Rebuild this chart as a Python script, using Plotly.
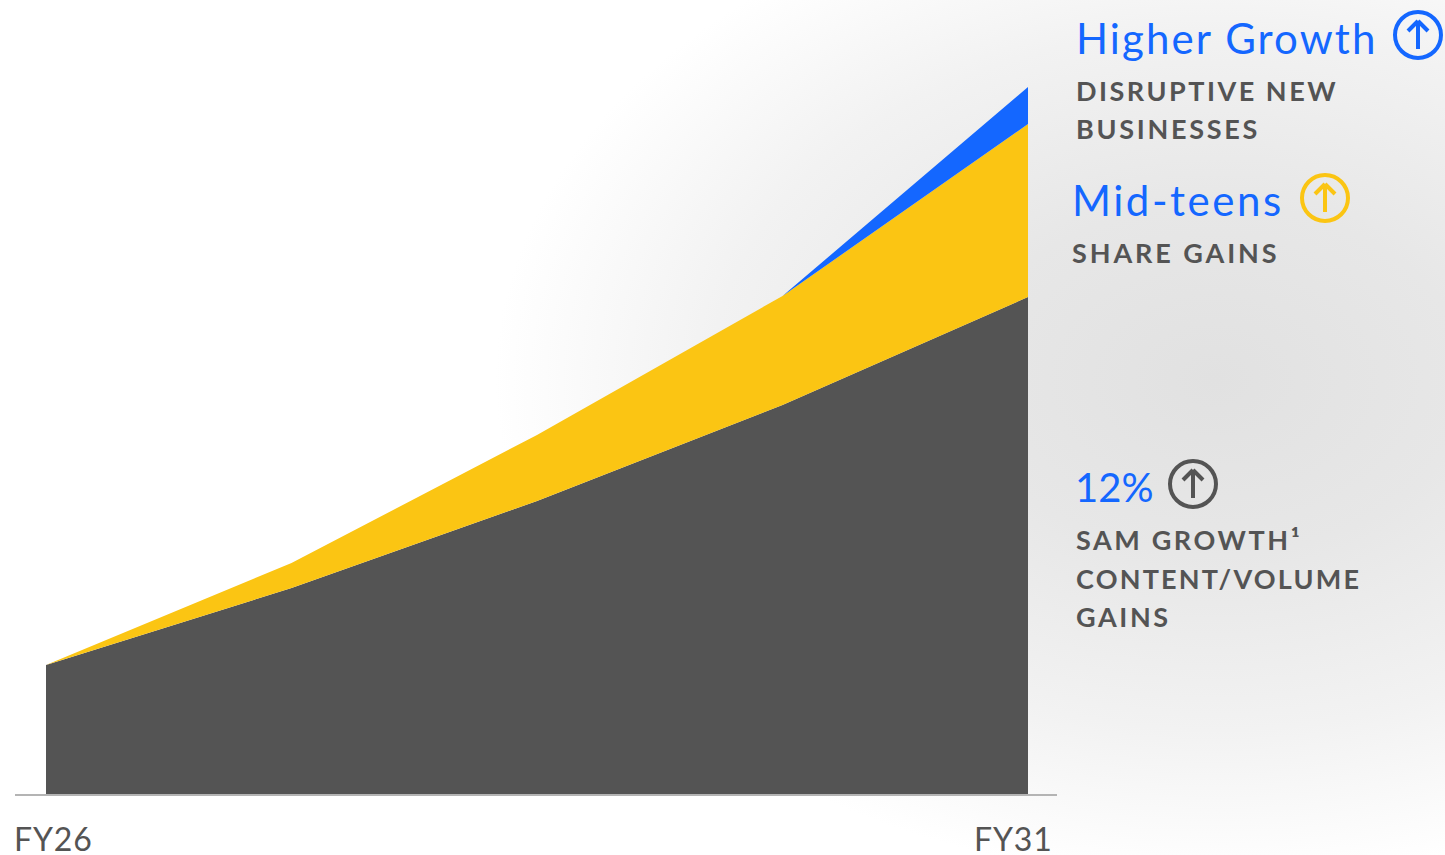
import base64
import plotly.graph_objects as go

W, H = 1445, 855
# Data (heights above the baseline, in chart units)
periods = [0, 1, 2, 3, 4]
sam_growth = [129, 206, 293, 389, 497]
share_gains = [0, 25, 66, 109, 173]
new_business = [0, 0, 0, 0, 37]
tick_labels = ["FY26", "FY31"]

BLUE, YELLOW, GRAY = "#1467FF", "#FBC513", "#545454"
FONT = "Lato"
L, R, T, B = 15, 1057, 0, 794
X0, DX = 46, 245.5


def px(x):
    return (x - L) / (R - L)


def py(y):
    return (B - y) / (B - T)


svg = f'''<svg xmlns="http://www.w3.org/2000/svg" width="{W}" height="{H}">
<defs><radialGradient id="g" gradientUnits="userSpaceOnUse" cx="0" cy="0" r="1"
 gradientTransform="translate(1215 380) scale(720 500)">
<stop offset="0" stop-color="#e1e1e1"/><stop offset="0.35" stop-color="#e7e7e7"/>
<stop offset="0.7" stop-color="#f2f2f2"/><stop offset="1" stop-color="#ffffff"/>
</radialGradient></defs><rect width="{W}" height="{H}" fill="#ffffff"/><rect width="{W}" height="{H}" fill="url(#g)"/></svg>'''
bg = "data:image/svg+xml;base64," + base64.b64encode(svg.encode()).decode()

fig = go.Figure()
for name, vals, col in [("SAM growth", sam_growth, GRAY),
                        ("Share gains", share_gains, YELLOW),
                        ("New businesses", new_business, BLUE)]:
    fig.add_trace(go.Scatter(x=periods, y=vals, name=name, mode="lines", stackgroup="one",
                             fillcolor=col, line=dict(width=0, color=col), hoverinfo="skip"))

ann = []
css = []


def text(s, x, y, size, color, weight=400, spacing=0):
    css.append(f'.annotation[data-index="{len(ann)}"] text{{letter-spacing:{spacing}px}}')
    ann.append(dict(text=s, xref="paper", yref="paper", x=px(x), y=py(y), xanchor="left", yanchor="middle",
                    showarrow=False, align="left",
                    font=dict(family=FONT, size=size, color=color, weight=weight)))


text("Higher Growth", 1074, 38, 42, BLUE, 400, 2.1)
text("Mid-teens", 1070, 200, 42, BLUE, 400, 2.55)
text("12%", 1073, 487, 40, BLUE, 400, 0)
for s, y, x, sp in [("DISRUPTIVE NEW", 90.5, 1074, 2.5), ("BUSINESSES", 129, 1074, 2.7), ("SHARE GAINS", 252.5, 1070, 2.9),
                    ("SAM GROWTH¹", 539.5, 1074, 2.6), ("CONTENT/VOLUME", 578.5, 1074, 2.2), ("GAINS", 616.5, 1074, 2.6)]:
    text(s, x, y, 27, GRAY, 700, sp)
text(tick_labels[0], 12, 839, 32, GRAY, 400, 0.9)
text(tick_labels[1], 972, 839, 32, GRAY, 400, 0.9)

shapes = []
for cx, cy, col in [(1418, 35, BLUE), (1325, 198, YELLOW), (1193, 484, GRAY)]:
    r = 23
    shapes.append(dict(type="circle", xref="paper", yref="paper", x0=px(cx - r), x1=px(cx + r),
                       y0=py(cy + r), y1=py(cy - r), line=dict(color=col, width=4)))
    for a, b, c, d in [(cx, cy + 14, cx, cy - 14), (cx - 10, cy - 4, cx, cy - 14), (cx + 10, cy - 4, cx, cy - 14)]:
        shapes.append(dict(type="line", xref="paper", yref="paper", x0=px(a), y0=py(b), x1=px(c), y1=py(d),
                           line=dict(color=col, width=4)))

fig.update_layout(
    width=W, height=H, autosize=False, showlegend=False,
    margin=dict(l=L, r=W - R, t=T, b=H - B, pad=0),
    paper_bgcolor="white", plot_bgcolor="rgba(0,0,0,0)",
    xaxis=dict(range=[(L - X0) / DX, (R - X0) / DX], showgrid=False, zeroline=False, showticklabels=False,
               ticks="", showline=True, linecolor="#b4b4b4", linewidth=2),
    yaxis=dict(range=[0, B - T], showgrid=False, zeroline=False, showticklabels=False, ticks="", visible=False),
    annotations=ann, shapes=shapes,
    images=[dict(source=bg, xref="paper", yref="paper", x=px(0), y=py(0), sizex=W / (R - L), sizey=H / (B - T),
                 xanchor="left", yanchor="top", sizing="stretch", layer="below")],
)
post = ("document.body.style.margin='0';document.documentElement.style.overflow='hidden';"
        "var s=document.createElement('style');"
        f"s.textContent={' '.join(css)!r};document.head.appendChild(s);")
fig.write_html("out.html", config={"displayModeBar": False}, post_script=post)
